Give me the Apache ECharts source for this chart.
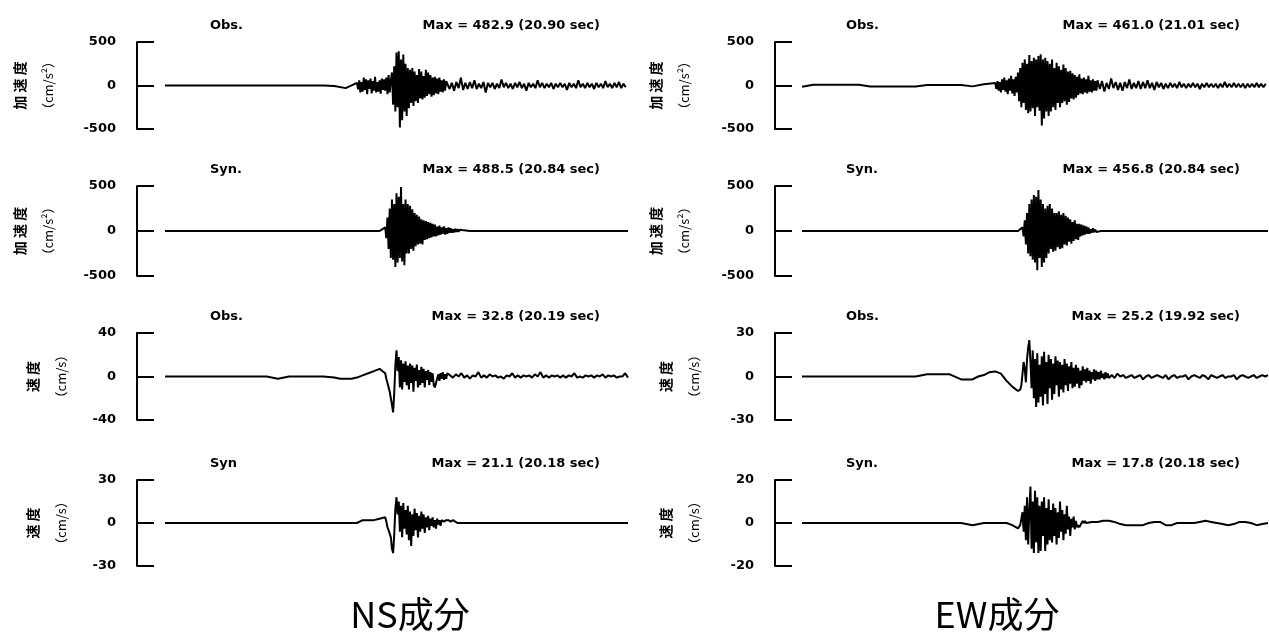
<!DOCTYPE html>
<html>
<head>
<meta charset="utf-8">
<script src="https://cdn.jsdelivr.net/npm/echarts/dist/echarts.min.js"></script>
<style>
  html, body { margin: 0; padding: 0; background: #fff; }
  #chart { width: 1269px; height: 638px; }
</style>
</head>
<body>
<div id="chart"></div>
<script>
// waveform segments: [start sec, step sec, values]
const nsObsAcc = [
  [0, 1, [0,0,0,0,0,0,0,0,0,0,0,0,0,0,0,-5,-30]],
  [17, 0.1, [30,-45,60,-80,40,-70,90,-50,70,-100,60,-40,80,-90,50,-60,100,-80,40,-70,60,-95,80,-50,70,-60,90,-100,120,-80,60,
    150,-220,220,-300,380,-250,393,-483,300,-400,355,-300,250,-350,200,-260,180,-200,
    200,-235,160,-180,120,-200,190,-150,160,-160,110,-140,180,-120,150,-100,120,-130,90,-110,100,-90,80,-100,90,-70,60,-80,70,-60,50]],
  [25, 0.2, [50,-40,30,-60,40,-30,90,-50,30,-40,
    40,-30,60,-40,20,-30,40,-80,30,-20,
    30,-40,20,-30,70,-20,30,-30,20,-40,
    30,-20,40,-30,20,-60,30,-20,20,-30,
    60,-20,30,-30,20,-20,30,-40,20,-20,
    30,-20,20,-50,30,-20,20,-30,60,-20,
    20,-30,30,-20,20,-40,30,-20,20,-30,
    50,-20,20,-30,30,-20,40,-30,20,-20]],
];
const nsSynAcc = [
  [0, 1, [0,0,0,0,0,0,0,0,0,0,0,0,0,0,0,0,0,0,0,0]],
  [19.5, 0.1, [40,-80,150,-200,250,-300,350,-320,300,-400,
    420,-350,380,-300,488,-340,300,-380,350,-250,
    300,-250,280,-200,240,-220,200,-170,180,-150,
    160,-140,130,-150,120,-100,110,-90,100,-80,
    90,-70,80,-60,70,-60,50,-50,60,-40,
    40,-30,50,-40,30,-30,40,-20,30,-20,
    20,-15,25,-10,20,-10,15,-5,10,0]],
  [27, 1, [0,0,0,0,0,0,0,0,0,0,0,0,0,0,0]],
];
const nsObsVel = [
  [0, 1, [0,0,0,0,0,0,0,0,0,0,-2,0,0,0,0,-1]],
  [15.5, 0.5, [-2,-2,-2,-1,1,3,5,7]],
  [19.5, 0.1, [3,-2,-6,-10,-14,-20,-26,-33,-15,10,
    24,5,18,-10,15,-12,12,-5,14,-8,
    10,-12,12,-6,10,-14,8,-4,11,-10,
    6,-8,9,-6,7,-10,5,-3,6,-8,
    4,-5,3,-8,-10,-6,-2,2,-4,3,
    -2,4,-3,2,-2,3]],
  [25.25, 0.25, [1,-1,2,0,3,-1,1,-2,1,0,4,-1,1,-1,2,0,
    1,-1,0,-2,1,0,3,-1,1,-1,1,0,1,-1,2,0,
    4,-1,1,-1,1,0,1,-1,1,-1,1,0,3,-1,0,-1,
    1,0,1,-1,1,0,2,-1,1,0,1,-1,0,0,3,-1]],
];
const nsSynVel = [
  [0, 1, [0,0,0,0,0,0,0,0,0,0,0,0,0,0,0,0,0,0]],
  [17.5, 0.5, [2,2,2,3,4]],
  [19.6, 0.1, [1,-3,-5,-6,-10,-18,-21,-8,10,18,
    6,15,-6,12,-10,14,-4,9,-8,12,
    -12,8,-16,6,-9,10,-5,7,-10,5,
    -6,8,-4,6,-7,4,-3,5,-5,3,
    -2,4,-3,2,-4,3,-1,2,-2,2,
    2,1,2,2,1,2,2,1,2,2,
    1,1,0,0,0]],
  [27, 1, [0,0,0,0,0,0,0,0,0,0,0,0,0,0,0]],
];
const ewObsAcc = [
  [0, 1, [-15,8,8,8,8,8,-12,-12,-12,-12,-12,5,5,5,5,-10,15]],
  [17, 0.1, [30,-40,50,-60,40,-80,70,-50,90,-70,60,-100,80,-60,110,-90,70,-120,100,-80,
    150,-180,200,-250,260,-200,300,-280,250,-320,350,-300,280,-260,320,-350,300,-250,340,-290,
    360,-461,300,-380,320,-300,280,-350,250,-300,
    300,-250,200,-280,260,-200,220,-250,180,-200,240,-180,200,-220,160,-190,170,-150,140,-160,
    120,-140,100,-110,130,-90,80,-100,90,-80,70,-90,110,-70,60,-80,70,-60,50,-60]],
  [26, 0.2, [60,-40,50,-70,30,-40,80,-30,40,-50,
    30,-60,40,-30,70,-40,30,-30,50,-40,
    40,-30,60,-30,30,-50,40,-20,30,-40,
    20,-30,30,-20,20,-30,40,-20,20,-30,
    20,-20,30,-20,20,-40,20,-20,30,-20,
    20,-20,20,-30,20,-20,40,-20,20,-20,
    30,-20,20,-20,20,-30,20,-20,20,-20,
    30,-20,20,-20,20]],
];
const ewSynAcc = [
  [0, 1, [0,0,0,0,0,0,0,0,0,0,0,0,0,0,0,0,0,0,0,0]],
  [19.4, 0.1, [40,-60,120,-150,200,-250,300,-280,350,-320,
    400,-350,380,-437,456,-300,350,-400,300,-350,
    250,-300,280,-250,300,-200,250,-230,200,-220,
    200,-180,220,-200,180,-190,200,-150,170,-160,
    150,-120,130,-140,100,-110,120,-90,80,-100,
    80,-60,70,-50,60,-40,50,-30,40,-30,
    20,-20,30,-15,15,-10,10,-5,5,0]],
  [27, 1, [0,0,0,0,0,0,0,0,0,0,0,0,0,0,0]],
];
const ewObsVel = [
  [0, 1, [0,0,0,0,0,0,0,0,0,0,0,1.5,1.5,1.5,-2]],
  [15, 0.5, [-2,0,1,3,3.5,2,-3,-7,-10]],
  [19.1, 0.1, [-11,-9,-6,2,10,5,-4,12,20,25,
    10,-8,18,-15,12,-21,16,-18,8,-14,
    14,-20,17,-12,10,-19,15,-8,12,-16,
    9,-12,14,-6,11,-14,10,-9,8,-11,
    12,-6,9,-10,7,-5,10,-8,6,-7,
    8,-5,6,-8,4,-6,7,-3,5,-4,
    6,-3,4,-5,3,-2,5,-3,4,-2,
    3,-2,4,-1,2,-2,3,-1,2,-1]],
  [27.25, 0.25, [1,-1,2,0,1,-1,0,1,-1,0,1,-2,0,1,
    -1,0,1,0,-1,1,-2,0,1,-1,0,0,1,-2,
    0,1,0,-1,1,0,-2,1,0,-1,0,1,-1,0,
    0,1,-2,0,1,0,-1,0,1,-1,0,1,0,1]],
];
const ewSynVel = [
  [0, 1, [0,0,0,0,0,0,0,0,0,0,0,0,0,0,0,-1,0,0,0]],
  [18.5, 0.5, [-1,-2.5]],
  [19.1, 0.1, [-2,-1,2,5,-4,8,-8,12,-10,6,
    17,-12,10,-14,15,-9,12,-14,8,-13,
    10,-6,12,-13,7,-10,11,-8,6,-9,
    9,-6,7,-10,5,-7,10,-4,6,-8,
    4,-5,8,-3,3,-6,2,-2,3,-3,
    1,-2,-1,-2,-1,0,1,0,1,0]],
  [25.5, 0.5, [0.5,0.5,1,1,0.5,-0.5,-1,-1,-1,-1,0,0.5,0.5,-1,-1,0,0,0,0,0.5,1,0.5,0,-0.5,-1,-0.5,0.5,0.5,0,-1,-0.5,0]],
];

const tags = ["Obs.", "Syn.", "Obs.", "Syn"];
const ewTags = ["Obs.", "Syn.", "Obs.", "Syn."];
const nsMax = ["Max = 482.9 (20.90 sec)", "Max = 488.5 (20.84 sec)", "Max = 32.8 (20.19 sec)", "Max = 21.1 (20.18 sec)"];
const ewMax = ["Max = 461.0 (21.01 sec)", "Max = 456.8 (20.84 sec)", "Max = 25.2 (19.92 sec)", "Max = 17.8 (20.18 sec)"];
const nsLimits = [500, 500, 40, 30];
const ewLimits = [500, 500, 30, 20];
const components = ["NS成分", "EW成分"];

const panels = [
  { col: 0, row: 0, segs: nsObsAcc, lim: nsLimits[0], tag: tags[0], max: nsMax[0] },
  { col: 0, row: 1, segs: nsSynAcc, lim: nsLimits[1], tag: tags[1], max: nsMax[1] },
  { col: 0, row: 2, segs: nsObsVel, lim: nsLimits[2], tag: tags[2], max: nsMax[2] },
  { col: 0, row: 3, segs: nsSynVel, lim: nsLimits[3], tag: tags[3], max: nsMax[3] },
  { col: 1, row: 0, segs: ewObsAcc, lim: ewLimits[0], tag: ewTags[0], max: ewMax[0] },
  { col: 1, row: 1, segs: ewSynAcc, lim: ewLimits[1], tag: ewTags[1], max: ewMax[1] },
  { col: 1, row: 2, segs: ewObsVel, lim: ewLimits[2], tag: ewTags[2], max: ewMax[2] },
  { col: 1, row: 3, segs: ewSynVel, lim: ewLimits[3], tag: ewTags[3], max: ewMax[3] },
];

// layout
const colLeft = [165, 802];
const colWidth = [463, 466];
const axisOffset = [28, 27];
const rowTop = [42, 186, 333, 480];
const rowHeight = [87, 90, 87, 86];
const tagLeft = [210, 846];
const maxRight = [669, 29];
const nameGap = [[75, 62], [77, 67]];

function toPoints(segs) {
  const pts = [];
  for (const [t0, dt, vals] of segs) {
    vals.forEach((v, i) => pts.push([+(t0 + i * dt).toFixed(3), v]));
  }
  return pts;
}

const txt = { fontFamily: "DejaVu Sans", fontWeight: "bold", fontSize: 13, color: "#000" };

const chart = echarts.init(document.getElementById("chart"));

const titles = [];
panels.forEach((p) => {
  const top = rowTop[p.row] - 23;
  titles.push({ text: p.tag, left: tagLeft[p.col], top, padding: 0, textStyle: txt });
  titles.push({ text: p.max, right: maxRight[p.col], top, padding: 0, textStyle: txt });
});
components.forEach((c, i) => {
  titles.push({
    text: c, left: [410, 997][i], top: 596, textAlign: "center", padding: 0,
    textStyle: { fontFamily: "Noto Sans CJK JP", fontWeight: "normal", fontSize: 36, color: "#000" },
  });
});

chart.setOption({
  animation: false,
  backgroundColor: "#fff",
  title: titles,
  grid: panels.map((p) => ({
    left: colLeft[p.col], width: colWidth[p.col], top: rowTop[p.row], height: rowHeight[p.row],
  })),
  xAxis: panels.map((p, i) => ({ type: "value", gridIndex: i, min: 0, max: 41, show: false })),
  yAxis: panels.map((p, i) => {
    const acc = p.row < 2;
    return {
      type: "value", gridIndex: i, min: -p.lim, max: p.lim, interval: p.lim,
      offset: axisOffset[p.col],
      axisLine: { show: true, onZero: false, lineStyle: { color: "#000", width: 2 } },
      axisTick: { show: true, inside: true, length: 17, lineStyle: { color: "#000", width: 2 } },
      axisLabel: Object.assign({ margin: 21 }, txt),
      splitLine: { show: false },
      name: acc ? "{a|加 速 度}\n{b|（cm/s²）}" : "{a|速 度}\n{b|（cm/s）}",
      nameLocation: "middle", nameRotate: 90,
      nameGap: nameGap[p.col][acc ? 0 : 1],
      nameTextStyle: {
        rich: {
          a: { fontFamily: "Noto Sans CJK JP", fontWeight: "bold", fontSize: 14, lineHeight: 28, color: "#000" },
          b: { fontFamily: "Noto Sans CJK JP", fontSize: 13, lineHeight: 28, color: "#000" },
        },
      },
    };
  }),
  series: panels.map((p, i) => ({
    type: "line", xAxisIndex: i, yAxisIndex: i,
    data: toPoints(p.segs),
    symbol: "none", silent: true,
    lineStyle: { color: "#000", width: 2 },
  })),
});
</script>
</body>
</html>
